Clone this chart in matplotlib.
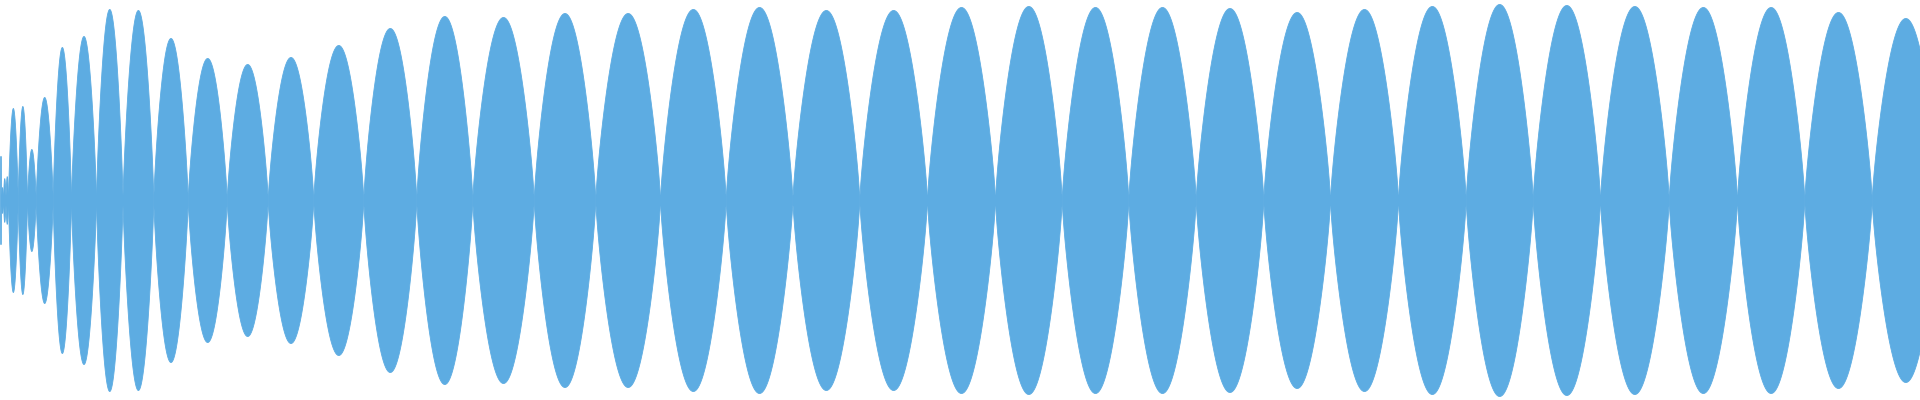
import numpy as np
import matplotlib
matplotlib.use("Agg")
import matplotlib.pyplot as plt

# zero crossings of the envelope (time, in samples of the 1920-wide view)
crossings = [0, 1, 3, 5.5, 8, 17.7, 27, 35.7, 52.7, 71, 96, 122.5, 153.3,
             187.7, 226.7, 267.7, 313.3, 363.3, 416.3, 472.3, 533.7, 595.3,
             660, 725.7, 792.4, 859.3, 927, 995, 1061.7, 1128.3, 1195.7,
             1263.3, 1330, 1398, 1465.7, 1532.7, 1600, 1668.7, 1737, 1804.3,
             1871.7, 1939]

# peak amplitude of each lobe between two crossings (full scale = 1)
peaks = [0.225, 0.065, 0.11, 0.12, 0.46, 0.47, 0.255, 0.515, 0.765, 0.82,
         0.955, 0.95, 0.81, 0.71, 0.68, 0.715, 0.775, 0.86, 0.92, 0.915,
         0.935, 0.935, 0.955, 0.965, 0.95, 0.95, 0.965, 0.97, 0.965, 0.965,
         0.96, 0.94, 0.955, 0.97, 0.98, 0.975, 0.97, 0.965, 0.965, 0.94,
         0.91]

floor = 0.025
color = "#5DACE2"

fig = plt.figure(figsize=(19.2, 4), dpi=100)
ax = fig.add_axes([0, 0, 1, 1])

for a, b, p in zip(crossings[:-1], crossings[1:], peaks):
    t = np.linspace(a, b, max(int((b - a) * 4), 8))
    # lobe shape: slightly fuller than a plain sine arch
    env = p * np.sin(np.pi * (t - a) / (b - a)) ** 0.78
    env = np.maximum(env, floor)
    ax.fill_between(t, -env, env, color=color, linewidth=0.6, edgecolor=color)

ax.set_xlim(0, 1920)
ax.set_ylim(-1, 1)
ax.axis("off")

fig.savefig("out.png", dpi=100, facecolor="white")
